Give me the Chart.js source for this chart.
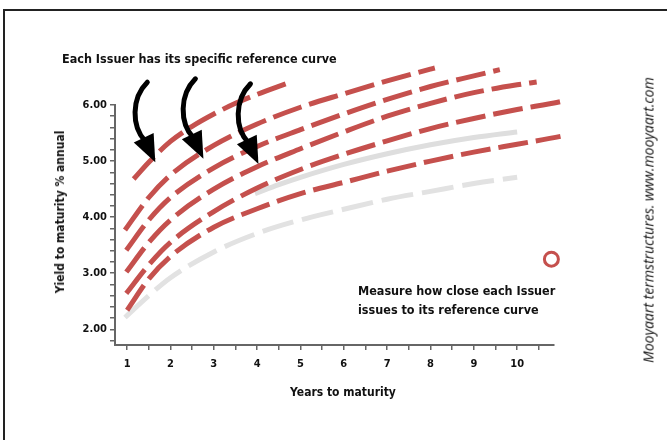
<!DOCTYPE html>
<html>
<head>
<meta charset="utf-8">
<script src="https://cdn.jsdelivr.net/npm/chart.js@4.4.1/dist/chart.umd.min.js"></script>
<style>
  body { margin: 0; background: #fff; }
  #wrap { position: relative; width: 667px; height: 440px; overflow: hidden; }
  #frame { position: absolute; left: 3px; top: 9px; width: 700px; height: 500px; border-top: 2px solid #222; border-left: 2px solid #222; }
  canvas { position: absolute; left: 0; top: 0; }
  .note { position: absolute; font-family: 'Liberation Sans Narrow', 'DejaVu Sans Condensed', sans-serif; font-weight: bold; font-size: 12.5px; color: #111; white-space: nowrap; }
  .axis-title { position: absolute; font-family: 'Liberation Sans Narrow', 'DejaVu Sans Condensed', sans-serif; font-weight: bold; font-size: 12px; color: #111; white-space: nowrap; transform: translate(-50%, -50%); }
  #credit { position: absolute; left: 648px; top: 220px; transform: translate(-50%, -50%) rotate(-90deg); font: italic 14px 'Open Sans', sans-serif; color: #111; white-space: nowrap; }
</style>
</head>
<body>
<div id="wrap">
  <div id="frame"></div>
  <canvas id="chart" width="667" height="440"></canvas>
  <div class="note" style="left:62px; top:51px;">Each Issuer has its specific reference curve</div>
  <div class="note" style="left:358px; top:281px; line-height:19px;">Measure how close each Issuer<br>issues to its reference curve</div>
  <div class="axis-title" style="left:343px; top:392px;">Years to maturity</div>
  <div class="axis-title" style="left:60px; top:212px; transform: translate(-50%, -50%) rotate(-90deg);">Yield to maturity % annual</div>
  <div id="credit">Mooyaart termstructures. www.mooyaart.com</div>
</div>
<script>
// issuer curves (years, yield % annual)
const r1Years = [1.15, 1.5, 2, 2.5, 3, 3.5, 4, 4.7];
const r1Yield = [4.68, 4.98, 5.35, 5.62, 5.84, 6.03, 6.19, 6.39];

const r2Years = [0.95, 1.5, 2, 3, 4, 5, 6, 7, 8, 8.1];
const r2Yield = [3.77, 4.35, 4.75, 5.28, 5.66, 5.96, 6.2, 6.43, 6.64, 6.66];

const r3Years = [0.98, 1.5, 2, 3, 4, 5, 6, 7, 8, 9, 9.6];
const r3Yield = [3.41, 3.95, 4.35, 4.88, 5.26, 5.56, 5.84, 6.1, 6.33, 6.52, 6.63];

const r4Years = [0.98, 1.5, 2, 3, 4, 5, 6, 7, 8, 9, 10, 10.45];
const r4Yield = [3.02, 3.55, 3.95, 4.5, 4.9, 5.22, 5.52, 5.8, 6.03, 6.22, 6.36, 6.41];

const r5Years = [0.98, 1.5, 2, 3, 4, 5, 6, 7, 8, 9, 10, 11, 11.15];
const r5Yield = [2.64, 3.15, 3.55, 4.1, 4.52, 4.85, 5.12, 5.36, 5.58, 5.76, 5.92, 6.06, 6.09];

const r6Years = [1, 1.5, 2, 3, 4, 5, 6, 7, 8, 9, 10, 11, 11.35];
const r6Yield = [2.34, 2.9, 3.3, 3.82, 4.15, 4.42, 4.62, 4.82, 5.0, 5.16, 5.3, 5.44, 5.5];

// reference curves (grey)
const refYears = [3.95, 4.5, 5, 6, 7, 8, 9, 10];
const refYield = [4.42, 4.58, 4.71, 4.94, 5.13, 5.29, 5.42, 5.52];

const ref2Years = [0.95, 1.5, 2, 3, 4, 5, 6, 7, 8, 9, 10];
const ref2Yield = [2.21, 2.6, 2.92, 3.38, 3.71, 3.95, 4.14, 4.32, 4.46, 4.6, 4.71];

// marker circle
const markYears = [10.79];
const markYield = [3.25];

// arrow tips
const arrowYears = [1.65, 2.76, 4.03];
const arrowYield = [4.98, 5.04, 4.95];

const xTickValues = [1, 1.5, 2, 2.5, 3, 3.5, 4, 4.5, 5, 5.5, 6, 6.5, 7, 7.5, 8, 8.5, 9, 9.5, 10, 10.5];
const yTickValues = [1.8, 2.0, 2.2, 2.4, 2.6, 2.8, 3.0, 3.2, 3.4, 3.6, 3.8, 4.0, 4.2, 4.4, 4.6, 4.8, 5.0, 5.2, 5.4, 5.6, 5.8, 6.0];

const red = '#c5504d';
const labelFont = { family: "'Liberation Sans Narrow', 'DejaVu Sans Condensed', sans-serif", weight: 'bold', size: 11 };

function toPoints(xs, ys) {
    return xs.map((x, i) => ({ x: x, y: ys[i] }));
}

function curve(label, xs, ys, color, dash, order) {
    return {
        label: label,
        data: toPoints(xs, ys),
        borderColor: color,
        borderWidth: 5,
        borderDash: dash,
        borderCapStyle: 'butt',
        pointRadius: 0,
        fill: false,
        cubicInterpolationMode: 'monotone',
        clip: false,
        order: order
    };
}

// the three black arrows pointing at the curves
const arrowPlugin = {
    id: 'arrows',
    afterDatasetsDraw(chart) {
        const { ctx, scales: { x, y } } = chart;
        ctx.save();
        ctx.fillStyle = '#000';
        ctx.strokeStyle = '#000';
        ctx.lineWidth = 5;
        ctx.lineCap = 'round';
        arrowYears.forEach((yr, i) => {
            const tx = x.getPixelForValue(yr);
            const ty = y.getPixelForValue(arrowYield[i]);
            const bx = tx - 10, by = ty - 21;
            ctx.beginPath();
            ctx.moveTo(tx - 8, ty - 80);
            ctx.bezierCurveTo(tx - 24, ty - 64, tx - 24, ty - 36, bx, by);
            ctx.stroke();
            const ang = Math.atan2(ty - by, tx - bx);
            const len = 27, half = 11;
            const cx = tx - Math.cos(ang) * len, cy = ty - Math.sin(ang) * len;
            ctx.beginPath();
            ctx.moveTo(tx, ty);
            ctx.lineTo(cx - Math.sin(ang) * half, cy + Math.cos(ang) * half);
            ctx.lineTo(cx + Math.sin(ang) * half, cy - Math.cos(ang) * half);
            ctx.closePath();
            ctx.fill();
        });
        ctx.restore();
    }
};

new Chart(document.getElementById('chart'), {
    type: 'line',
    data: {
        datasets: [
            curve('Issuer 1', r1Years, r1Yield, red, [30, 8], 1),
            curve('Issuer 2', r2Years, r2Yield, red, [30, 8], 1),
            curve('Issuer 3', r3Years, r3Yield, red, [30, 8], 1),
            curve('Issuer 4', r4Years, r4Yield, red, [30, 8], 1),
            curve('Issuer 5', r5Years, r5Yield, red, [30, 8], 1),
            curve('Issuer 6', r6Years, r6Yield, red, [30, 8], 1),
            curve('Reference', refYears, refYield, '#dedede', [], 2),
            curve('Reference 2', ref2Years, ref2Yield, '#e2e2e2', [32, 9], 2),
            {
                label: 'Marker',
                data: toPoints(markYears, markYield),
                showLine: false,
                pointRadius: 7,
                pointBorderWidth: 3,
                pointBorderColor: red,
                pointBackgroundColor: 'rgba(0,0,0,0)',
                clip: false,
                order: 0
            }
        ]
    },
    options: {
        responsive: false,
        animation: false,
        layout: { padding: { left: 53, right: 113, top: 105, bottom: 40 } },
        plugins: { legend: { display: false }, tooltip: { enabled: false } },
        scales: {
            x: {
                type: 'linear',
                min: 0.72,
                max: 10.85,
                afterBuildTicks: s => { s.ticks = xTickValues.map(v => ({ value: v })); },
                afterFit: s => { s.height = 55; },
                ticks: {
                    autoSkip: false,
                    maxRotation: 0,
                    padding: 8,
                    color: '#111',
                    font: labelFont,
                    callback: v => Number.isInteger(v) ? String(v) : ''
                },
                grid: { drawOnChartArea: false, drawTicks: true, tickLength: 5, color: '#666', lineWidth: 1.5 },
                border: { color: '#666', width: 2 }
            },
            y: {
                min: 1.72,
                max: 6.0,
                afterBuildTicks: s => { s.ticks = yTickValues.map(v => ({ value: v })); },
                afterFit: s => { s.width = 62; },
                ticks: {
                    autoSkip: false,
                    padding: 3,
                    color: '#111',
                    font: labelFont,
                    callback: v => Math.abs(v - Math.round(v)) < 1e-6 ? v.toFixed(2) : ''
                },
                grid: { drawOnChartArea: false, drawTicks: true, tickLength: 5, color: '#666', lineWidth: 1.5 },
                border: { color: '#666', width: 2 }
            }
        }
    },
    plugins: [arrowPlugin]
});
</script>
</body>
</html>
